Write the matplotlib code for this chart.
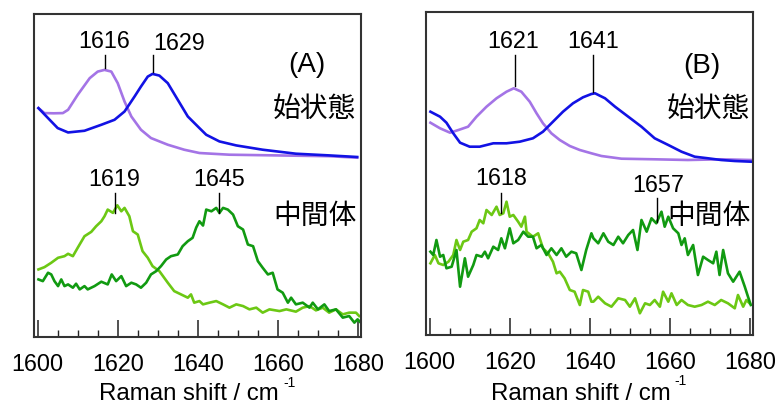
import matplotlib
matplotlib.use("Agg")
import matplotlib.pyplot as plt
from matplotlib.ticker import MultipleLocator

plt.rcParams['font.family'] = ['Liberation Sans', 'Noto Sans CJK JP', 'DejaVu Sans']

# ---------------- Panel A data (Raman shift / cm-1, intensity a.u.) ----------------
a_purple_x = [1600.2, 1601.7, 1604.0, 1606.3, 1607.6, 1610.0, 1613.0, 1615.0, 1616.7, 1618.4,
              1620.0, 1621.7, 1623.4, 1625.8, 1628.3, 1632.5, 1636.6, 1640.4, 1647.9, 1656.2,
              1664.5, 1672.8, 1679.8]
a_purple_y = [229.7, 224.7, 224.5, 224.7, 228.0, 243.0, 259.7, 266.3, 268.0, 266.3,
              254.7, 236.3, 221.3, 208.0, 199.7, 193.0, 188.0, 184.7, 183.0, 182.5,
              182.0, 181.5, 180.0]

a_blue_x = [1600.2, 1603.0, 1605.0, 1607.6, 1611.7, 1615.9, 1619.2, 1621.7, 1624.2, 1625.8,
            1627.5, 1628.7, 1630.4, 1632.5, 1635.0, 1637.5, 1640.4, 1642.1, 1645.4, 1649.6,
            1656.2, 1664.5, 1672.8, 1679.8]
a_blue_y = [229.7, 218.0, 209.7, 205.3, 207.0, 213.0, 218.0, 226.3, 241.3, 251.3,
            261.3, 264.0, 262.3, 254.7, 238.0, 221.3, 209.7, 203.0, 196.3, 192.3,
            188.0, 184.0, 182.3, 180.7]

a_light_x = [1600.2, 1601.7, 1603.4, 1605.1, 1606.7, 1607.6, 1608.8, 1610.0, 1611.7, 1613.4,
             1614.6, 1615.9, 1616.7, 1617.5, 1618.8, 1619.9, 1620.9, 1621.7, 1622.9, 1623.8,
             1625.0, 1626.2, 1627.5, 1628.7, 1630.4, 1632.5, 1634.1, 1635.8, 1637.5, 1638.3,
             1639.1, 1640.4, 1641.3, 1642.9, 1644.6, 1646.3, 1647.9, 1649.6, 1651.3, 1652.9,
             1654.6, 1656.2, 1657.9, 1660.4, 1662.1, 1664.5, 1666.2, 1667.9, 1669.5, 1671.2,
             1672.8, 1674.5, 1676.2, 1677.8, 1679.5, 1680.3]
a_light_y = [68.0, 70.3, 74.7, 79.7, 81.3, 83.7, 81.3, 89.7, 101.3, 105.7,
             111.3, 116.3, 121.3, 128.0, 124.7, 132.3, 126.3, 129.7, 121.3, 106.3,
             103.0, 86.3, 79.7, 71.3, 66.3, 54.7, 46.3, 43.0, 39.7, 43.0,
             34.7, 36.3, 33.0, 34.7, 36.3, 33.0, 29.7, 33.0, 31.3, 28.0,
             29.7, 24.7, 28.0, 26.3, 28.0, 25.7, 29.7, 31.3, 27.0, 29.7,
             24.7, 28.0, 23.0, 24.7, 24.7, 21.3]

a_dark_x = [1600.2, 1601.3, 1602.6, 1603.4, 1604.2, 1605.1, 1605.9, 1606.7, 1607.6, 1608.8,
            1609.6, 1610.5, 1611.7, 1612.5, 1614.2, 1615.9, 1617.5, 1618.5, 1619.6, 1620.9,
            1622.1, 1623.4, 1624.6, 1625.8, 1627.1, 1628.3, 1629.6, 1630.8, 1632.1, 1633.3,
            1635.0, 1636.2, 1637.5, 1638.7, 1639.6, 1640.4, 1641.3, 1642.1, 1643.4, 1644.6,
            1645.4, 1646.3, 1647.5, 1648.8, 1650.0, 1651.3, 1652.5, 1653.8, 1655.0, 1656.2,
            1657.5, 1658.7, 1659.9, 1661.2, 1662.5, 1663.3, 1664.5, 1666.2, 1667.9, 1668.7,
            1670.0, 1671.6, 1672.8, 1674.5, 1676.2, 1677.8, 1679.1, 1679.9, 1680.7]
a_dark_y = [58.0, 56.3, 64.7, 63.0, 56.3, 51.3, 58.0, 51.3, 53.0, 49.7,
            53.7, 48.0, 51.3, 48.0, 51.3, 55.7, 53.0, 63.0, 56.3, 61.3,
            51.3, 54.7, 53.0, 49.7, 54.7, 63.0, 66.3, 71.3, 78.0, 81.3,
            83.0, 91.3, 96.3, 99.7, 110.0, 116.3, 112.0, 128.0, 126.3, 129.7,
            124.7, 129.7, 128.0, 123.0, 111.3, 108.0, 93.0, 91.3, 76.3, 69.7,
            63.0, 64.7, 48.0, 44.7, 34.7, 39.7, 33.0, 34.7, 29.7, 34.7,
            28.0, 33.0, 26.3, 28.0, 19.7, 21.3, 14.7, 18.0, 14.7]

# ---------------- Panel B data ----------------
b_purple_x = [1600.2, 1602.6, 1605.1, 1607.2, 1609.6, 1611.7, 1614.2, 1616.7, 1619.2, 1621.0,
              1622.9, 1625.0, 1626.7, 1628.3, 1630.4, 1632.5, 1635.0, 1637.5, 1640.4, 1642.9,
              1647.9, 1656.2, 1664.5, 1672.8, 1680.3]
b_purple_y = [212.3, 206.7, 202.3, 205.0, 208.3, 218.3, 228.3, 236.7, 243.3, 246.7,
              243.3, 233.3, 221.7, 211.7, 201.7, 195.0, 189.0, 185.0, 181.7, 179.0,
              176.3, 175.7, 175.0, 175.7, 175.0]

b_blue_x = [1600.2, 1602.6, 1604.2, 1605.9, 1607.6, 1610.0, 1612.5, 1615.9, 1619.2, 1622.5,
            1625.8, 1628.3, 1630.8, 1633.3, 1635.8, 1638.3, 1640.4, 1641.3, 1643.8, 1646.3,
            1649.6, 1652.9, 1656.2, 1659.6, 1662.9, 1666.2, 1669.5, 1672.8, 1676.2, 1680.3]
b_blue_y = [223.3, 218.3, 212.3, 201.7, 192.3, 188.3, 188.3, 191.7, 191.7, 193.3,
            196.7, 203.3, 213.3, 223.3, 231.7, 237.7, 241.0, 241.7, 236.7, 228.3,
            218.3, 208.3, 196.7, 190.0, 183.3, 178.3, 176.7, 175.0, 174.0, 173.3]

b_light_x = [1600.2, 1601.3, 1602.2, 1603.4, 1604.7, 1605.9, 1606.7, 1607.6, 1608.4, 1609.6,
             1610.5, 1611.7, 1612.5, 1613.4, 1614.2, 1615.5, 1616.7, 1617.5, 1618.4, 1619.2,
             1620.0, 1620.9, 1622.1, 1622.9, 1623.8, 1624.2, 1625.8, 1627.1, 1628.3, 1629.6,
             1630.8, 1631.7, 1632.5, 1633.7, 1635.0, 1636.2, 1637.5, 1638.3, 1639.6, 1640.4,
             1640.9, 1642.1, 1643.8, 1645.4, 1647.1, 1648.8, 1650.0, 1651.3, 1652.5, 1653.8,
             1655.0, 1656.2, 1657.5, 1658.3, 1659.6, 1660.4, 1661.7, 1662.9, 1664.5, 1666.2,
             1667.9, 1669.5, 1671.2, 1672.8, 1674.5, 1676.2, 1677.0, 1678.3, 1679.1, 1679.9]
b_light_y = [71.7, 80.0, 71.7, 70.0, 73.3, 80.0, 95.0, 85.0, 93.3, 95.0,
             103.3, 106.7, 115.0, 111.7, 125.0, 120.0, 128.3, 120.0, 121.7, 133.3,
             118.3, 120.0, 113.3, 108.3, 118.3, 103.3, 98.3, 101.7, 86.7, 81.7,
             73.3, 61.7, 63.3, 56.7, 45.0, 43.3, 30.0, 45.0, 43.3, 33.3,
             33.3, 38.3, 31.7, 28.3, 36.7, 35.0, 28.3, 36.7, 21.7, 31.7,
             30.0, 35.0, 28.3, 43.3, 33.3, 41.7, 30.0, 35.0, 30.0, 28.3,
             30.0, 33.3, 30.0, 35.0, 31.7, 26.7, 40.0, 28.3, 35.0, 31.7]

b_dark_x = [1600.2, 1600.9, 1601.7, 1602.6, 1603.4, 1604.2, 1605.5, 1606.7, 1607.6, 1608.8,
            1609.6, 1610.9, 1611.7, 1613.0, 1613.8, 1614.6, 1615.9, 1617.1, 1617.9, 1618.8,
            1620.0, 1620.9, 1622.1, 1623.4, 1624.6, 1625.8, 1626.7, 1627.9, 1629.2, 1630.4,
            1631.7, 1632.9, 1634.1, 1635.4, 1636.6, 1637.9, 1639.1, 1640.4, 1640.9, 1642.1,
            1643.4, 1644.6, 1645.9, 1647.1, 1648.3, 1649.6, 1650.8, 1651.9, 1652.9, 1654.2,
            1655.4, 1656.6, 1657.9, 1658.7, 1659.6, 1660.8, 1662.1, 1662.9, 1663.7, 1664.5,
            1665.8, 1667.0, 1668.3, 1669.5, 1670.8, 1671.6, 1672.4, 1673.3, 1674.5, 1675.8,
            1677.4, 1678.7, 1679.5, 1680.2]
b_dark_y = [83.3, 80.0, 95.0, 78.3, 80.0, 66.7, 68.3, 85.0, 48.3, 76.7,
            58.3, 70.0, 80.0, 78.3, 83.3, 76.7, 88.3, 85.0, 96.7, 86.7,
            106.7, 91.7, 95.0, 103.3, 98.3, 98.3, 86.7, 90.0, 80.0, 86.7,
            80.0, 86.7, 78.3, 83.3, 81.7, 65.0, 85.0, 101.7, 96.7, 91.7,
            101.7, 93.3, 90.0, 98.3, 91.7, 100.0, 105.0, 85.0, 115.0, 103.3,
            116.7, 111.7, 123.3, 108.3, 118.3, 106.7, 101.7, 90.0, 96.7, 80.0,
            90.0, 60.0, 78.3, 75.0, 71.7, 83.3, 60.0, 85.0, 61.7, 53.3,
            63.3, 48.3, 38.3, 30.0]

# peak annotations: (label, line x, line y0, line y1, text x, text baseline y)
a_peaks = [("1616", 1616.7, 270.0, 283.0, 1616.7, 289.7),
           ("1629", 1628.8, 266.0, 283.0, 1635.4, 288.0),
           ("1619", 1619.3, 125.0, 145.0, 1619.2, 151.3),
           ("1645", 1645.4, 125.0, 145.0, 1645.4, 151.3)]
b_peaks = [("1621", 1621.2, 249.0, 280.0, 1620.8, 286.7),
           ("1641", 1640.8, 243.0, 280.0, 1640.9, 286.7),
           ("1618", 1617.9, 121.7, 141.7, 1617.9, 150.0),
           ("1657", 1656.8, 113.3, 136.7, 1657.1, 143.3)]

xlabel_main = "Raman shift / cm"
xlabel_sup = "-1"

c_blue = '#1212e4'
c_purple = '#a474e6'
c_light = '#6cc814'
c_dark = '#119a11'
frame_c = '#333333'

fig = plt.figure(figsize=(7.77, 4.04), dpi=100)
axA = fig.add_axes([0.0438, 0.1651, 0.4208, 0.8002])
axB = fig.add_axes([0.5483, 0.1708, 0.4208, 0.7995])


def style(ax, ylim):
    ax.set_xlim(1599.1, 1680.75)
    ax.set_ylim(*ylim)
    ax.xaxis.set_major_locator(MultipleLocator(20))
    ax.xaxis.set_minor_locator(MultipleLocator(5))
    ax.tick_params(axis='x', which='both', direction='in', top=False, bottom=True,
                   color='#222222', labelsize=16.8, pad=11.5)
    ax.tick_params(axis='x', which='major', length=12.5, width=1.1)
    ax.tick_params(axis='x', which='minor', length=5, width=1.0)
    ax.tick_params(axis='y', which='both', left=False, right=False, labelleft=False)
    for s in ax.spines.values():
        s.set_linewidth(1.5)
        s.set_color(frame_c)


lw = 1.9
axA.plot(a_purple_x, a_purple_y, color=c_purple, lw=lw)
axA.plot(a_blue_x, a_blue_y, color=c_blue, lw=lw)
axA.plot(a_light_x, a_light_y, color=c_light, lw=lw)
axA.plot(a_dark_x, a_dark_y, color=c_dark, lw=lw)

axB.plot(b_purple_x, b_purple_y, color=c_purple, lw=lw)
axB.plot(b_blue_x, b_blue_y, color=c_blue, lw=lw)
axB.plot(b_light_x, b_light_y, color=c_light, lw=lw)
axB.plot(b_dark_x, b_dark_y, color=c_dark, lw=lw)

style(axA, (0, 324))
style(axB, (0, 323))

for ax, peaks in ((axA, a_peaks), (axB, b_peaks)):
    for lab, lx, y0, y1, tx, ty in peaks:
        ax.plot([lx, lx], [y0, y1], color='black', lw=1.0)
        ax.text(tx, ty, lab, ha='center', va='baseline', fontsize=16.8)

# x-axis titles (main text plus raised "-1")
for xc, xs, ys in ((0.2433, 0.3645, 0.042), (0.7475, 0.8674, 0.047)):
    fig.text(xc, 0.0100, xlabel_main, ha='center', va='baseline', fontsize=17.3)
    fig.text(xs, ys, xlabel_sup, ha='left', va='baseline', fontsize=10)

cjk = ['Noto Sans CJK JP', 'DejaVu Sans']
axA.text(1667.3, 266.3, "(A)", ha='center', va='baseline', fontsize=20)
axB.text(1668.0, 261.7, "(B)", ha='center', va='baseline', fontsize=20)
axA.text(1669.0, 228.5, "始状態", ha='center', va='center', fontsize=20, family=cjk)
axA.text(1669.3, 121.5, "中間体", ha='center', va='center', fontsize=20, family=cjk)
axB.text(1669.6, 226.0, "始状態", ha='center', va='center', fontsize=20, family=cjk)
axB.text(1669.8, 119.0, "中間体", ha='center', va='center', fontsize=20, family=cjk)

fig.savefig("out.png", dpi=100)
